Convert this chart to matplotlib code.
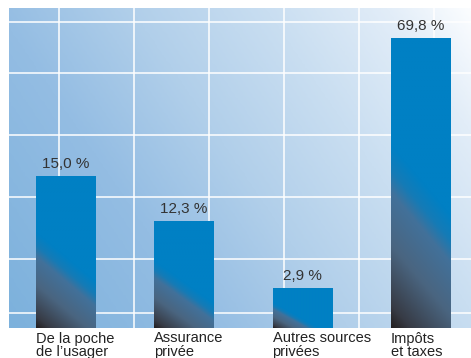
import numpy as np
import matplotlib
matplotlib.use('Agg')
import matplotlib.pyplot as plt
from matplotlib.colors import LinearSegmentedColormap

# données
categories = ["De la poche\nde l\u2019usager", "Assurance\nprivée", "Autres sources\nprivées", "Impôts\net taxes"]
value_labels = ["15,0 %", "12,3 %", "2,9 %", "69,8 %"]
bar_heights = [152, 107, 40, 290]  # hauteurs dessinées (échelle 0-320 de l'infographie)
grid_y = [15, 69, 131, 193, 255, 306]

plt.rcParams['font.family'] = ['Liberation Sans', 'DejaVu Sans']

fig = plt.figure(figsize=(4.71, 3.58), dpi=100)
ax = fig.add_axes([9 / 471, 30 / 358, 462 / 471, 320 / 358])

x = np.arange(len(categories))
width = 0.506
xmin, xmax = -0.477, 3.422
ymax = 320
ax.set_xlim(xmin, xmax)
ax.set_ylim(0, ymax)

# fond en dégradé (bas-gauche bleu -> haut-droite presque blanc)
bg_cmap = LinearSegmentedColormap.from_list(
    "bg", [(0.0, "#7cb1dc"), (0.3, "#94bde3"), (0.5, "#b1cfea"),
           (0.7, "#c9def1"), (0.88, "#e2edf8"), (1.0, "#fbfdff")])
u, v = np.meshgrid(np.linspace(0, 1, 200), np.linspace(0, 1, 150))
t = 0.68 * u + 0.32 * v
ax.imshow(bg_cmap(t), extent=[xmin, xmax, 0, ymax], origin='lower',
          aspect='auto', zorder=0, interpolation='bilinear')

# grille blanche
for gy in grid_y:
    ax.axhline(gy, color='white', lw=1.1, zorder=1)
for gx in -0.055 + 0.633 * np.arange(6):
    ax.axvline(gx, color='white', lw=1.1, zorder=1)

# barres avec dégradé (coin bas-gauche sombre)
bar_cmap = LinearSegmentedColormap.from_list(
    "bar", [(0.0, "#231f20"), (0.12, "#373b45"), (0.45, "#4a6580"),
            (0.74, "#42719a"), (0.86, "#157bb6"), (1.0, "#0080c4")])
bars = ax.bar(x, bar_heights, width=width, color='none', edgecolor='none', zorder=2)
px_per_unit = 118.5
for b, h in zip(bars, bar_heights):
    x0 = b.get_x()
    w_px = b.get_width() * px_per_unit
    k = 0.45 + h / 400
    dx, dy = np.meshgrid(np.linspace(0, w_px, 80), np.linspace(0, h, 200))
    tt = (dy + k * dx) / (0.55 * h)
    tt = np.clip(tt / 1.15, 0, 1)
    im = ax.imshow(bar_cmap(tt), extent=[x0, x0 + b.get_width(), 0, h],
                   origin='lower', aspect='auto', zorder=2, interpolation='bilinear')
    im.set_clip_path(b)

# étiquettes de valeurs
for xi, h, lab in zip(x, bar_heights, value_labels):
    ax.text(xi, h + 8, lab, ha='center', va='baseline', fontsize=11, color='#333333', zorder=3)

# catégories, alignées à gauche sous chaque barre
for xi, cat in zip(x, categories):
    ax.text(xi - width / 2, -3.5, cat, ha='left', va='top', fontsize=10.5,
            color='#222222', linespacing=0.93)

ax.set_xticks([])
ax.set_yticks([])
for s in ax.spines.values():
    s.set_visible(False)

fig.savefig("out.png", dpi=100)
